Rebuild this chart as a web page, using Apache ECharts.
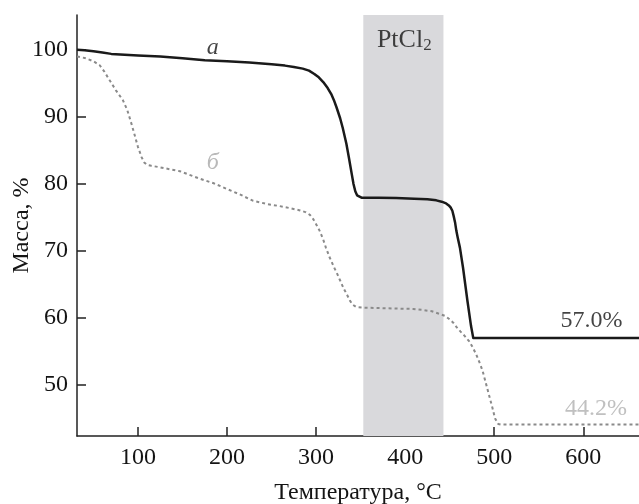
<!DOCTYPE html>
<html>
<head>
<meta charset="utf-8">
<script src="https://cdn.jsdelivr.net/npm/echarts@6/dist/echarts.min.js"></script>
<style>
html,body{margin:0;padding:0;background:#fff;}
#chart{width:639px;height:504px;}
</style>
</head>
<body>
<div id="chart"></div>
<script>
// Curve "а": temperature (°C) and mass (%)
const tempA = [31.5,40,50,60,70,80,100,125,150,175,200,225,250,265,275,285,292,298,303,308,313,317,320,323,327,330,334,337,340,342,344,346,348,351,370,390,410,425,435,441,446,449,451,453,454.5,456,457.5,459,461.5,465,470,474,476.5,520,580,662.6];
const massA = [100.0,99.95,99.8,99.6,99.4,99.3,99.15,99.0,98.75,98.45,98.3,98.1,97.85,97.65,97.45,97.2,96.9,96.4,95.9,95.2,94.3,93.4,92.5,91.4,89.8,88.3,86.0,83.8,81.5,80.0,78.9,78.3,78.05,77.95,77.95,77.9,77.8,77.7,77.55,77.35,77.1,76.8,76.5,76.0,75.2,74.3,73.0,72.0,70.5,67.5,62.5,58.8,57.0,57.0,57.0,57.0];
// Curve "б"
const tempB = [31.5,40,50,57,62,68,75,83,88,92.6,96,100,104,107,110,115,124,147,169,185,199,215,229,245,259,272,282,288,293,297,300,304,308,311,315,320,324,327,331,335,338,341,345,353,380,409,420,430,439,445,450,454,458,462,467,472,476,480,484,487,491,495,498,501,504.5,508,560,662.6];
const massB = [99.0,98.8,98.3,97.7,96.8,95.5,94.0,92.5,91.0,89.0,87.4,85.5,84.0,83.2,82.85,82.7,82.5,81.9,80.8,80.1,79.3,78.4,77.5,77.0,76.7,76.35,76.05,75.8,75.4,74.7,74.0,73.0,71.7,70.5,69.1,67.6,66.5,65.6,64.4,63.4,62.6,62.0,61.65,61.55,61.45,61.35,61.2,61.0,60.6,60.3,59.8,59.3,58.6,58.0,57.3,56.5,55.6,54.5,53.2,52.1,50.1,48.1,46.6,45.0,44.2,44.1,44.1,44.1];
// Shaded PtCl2 band (°C)
const bandRange = [353, 443];
// Tick labels
const xTicks = [100,200,300,400,500,600];
const yTicks = [50,60,70,80,90,100];
const xRange = [31.5, 662.6];
const yRange = [42.4, 105.2];

const serif = '"Liberation Serif","DejaVu Serif",serif';
const ink = '#141414';
const chart = echarts.init(document.getElementById('chart'), null, {renderer:'canvas'});
const zipA = tempA.map((t,i)=>[t,massA[i]]);
const zipB = tempB.map((t,i)=>[t,massB[i]]);

chart.setOption({
  animation:false,
  backgroundColor:'#fff',
  grid:{left:77, right:0, top:15, bottom:68, containLabel:false, outerBoundsMode:'none'},
  xAxis:{
    type:'value', min:xRange[0], max:xRange[1],
    name:'Температура, °C', nameLocation:'middle', nameGap:45, nameMoveOverlap:false,
    nameTextStyle:{fontFamily:serif, fontSize:24, color:ink},
    axisLine:{show:true, onZero:false, lineStyle:{color:'#222', width:1.5}},
    axisTick:{show:true, inside:true, length:9, customValues:xTicks, lineStyle:{color:'#222', width:1.5}},
    axisLabel:{customValues:xTicks, margin:10, fontFamily:serif, fontSize:24, color:ink},
    splitLine:{show:false}
  },
  yAxis:{
    type:'value', min:yRange[0], max:yRange[1],
    name:'Масса, %', nameLocation:'middle', nameGap:43, nameMoveOverlap:false,
    nameTextStyle:{fontFamily:serif, fontSize:24, color:ink},
    axisLine:{show:true, onZero:false, lineStyle:{color:'#222', width:1.5}},
    axisTick:{show:true, inside:true, length:9, customValues:yTicks, lineStyle:{color:'#222', width:1.5}},
    axisLabel:{customValues:yTicks, margin:9, fontFamily:serif, fontSize:24, color:ink},
    splitLine:{show:false}
  },
  series:[
    {
      type:'line', name:'б', data:zipB, showSymbol:false, smooth:false,
      lineStyle:{color:'#8a8a8a', width:2, type:[3,3]},
      z:3,
      markArea:{
        silent:true,
        itemStyle:{color:'#d9d9dc'},
        data:[[{xAxis:bandRange[0]},{xAxis:bandRange[1]}]]
      }
    },
    {
      type:'line', name:'а', data:zipA, showSymbol:false, smooth:false,
      lineStyle:{color:'#1a1a1a', width:2.5, join:'round'},
      z:4
    },
    {
      type:'scatter', symbolSize:0, silent:true, z:5,
      label:{show:true, position:'inside', fontFamily:serif, fontSize:24, color:ink},
      data:[
        {value:[184,100.3], label:{formatter:'а', fontStyle:'italic'}},
        {value:[184,83.2], label:{formatter:'б', fontStyle:'italic', color:'#a8a8a8'}},
        {value:[399,101.5], label:{formatter:'PtCl{s|2}', fontSize:26, rich:{s:{fontFamily:serif, fontSize:17, verticalAlign:'bottom', padding:[12,0,0,0], color:ink}}}},
        {value:[644,59.6], label:{formatter:'57.0%', align:'right'}},
        {value:[649,46.4], label:{formatter:'44.2%', align:'right', color:'#b0b0b0'}}
      ]
    }
  ]
});
</script>
</body>
</html>
